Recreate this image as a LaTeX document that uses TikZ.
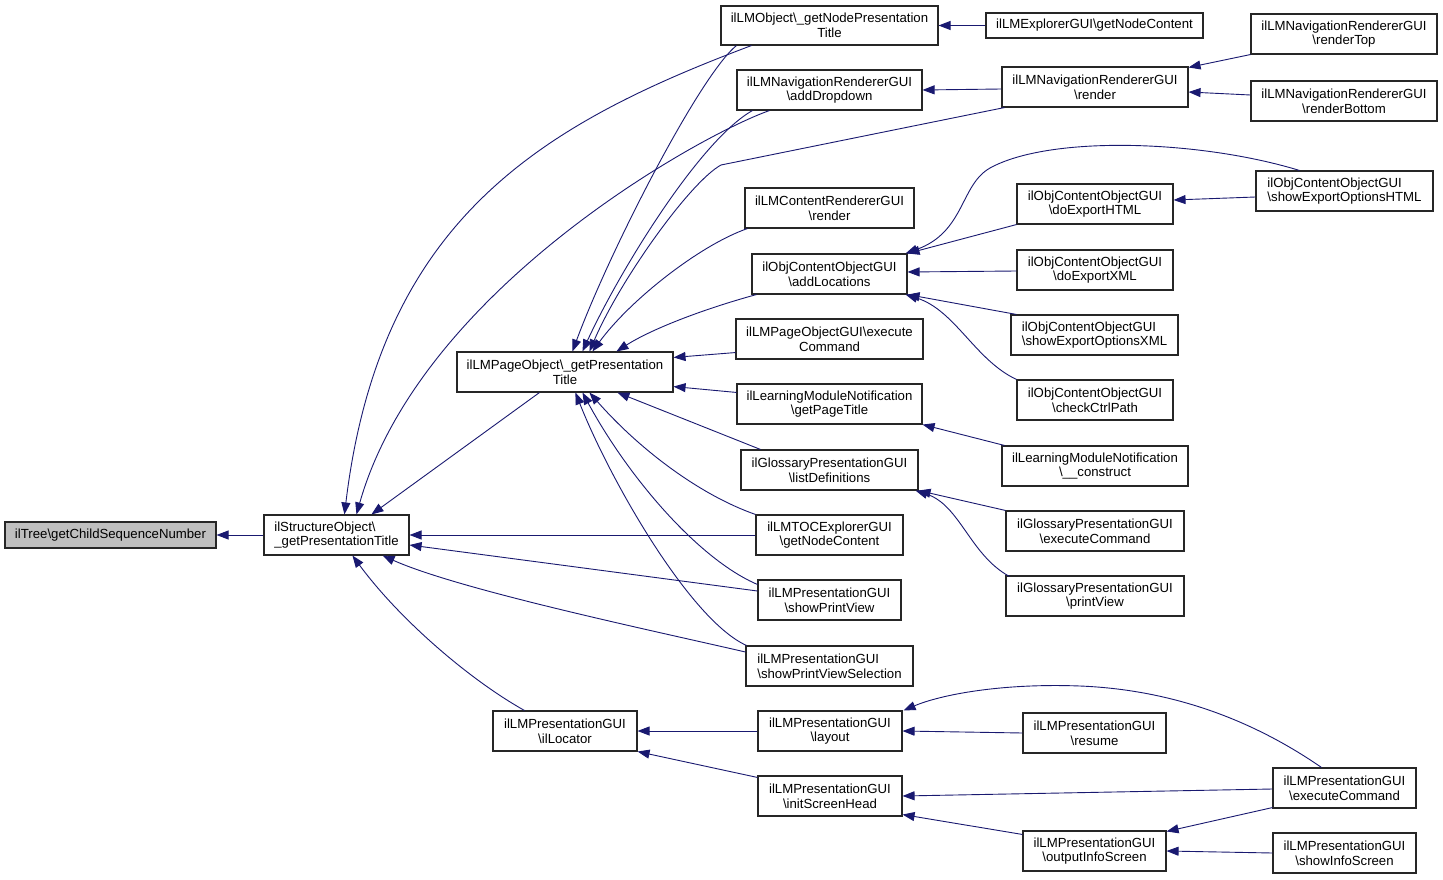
\documentclass[tikz,border=0pt]{standalone}
\usepackage{fontspec}
\setmainfont{Liberation Sans}
\usetikzlibrary{arrows.meta,calc}
\definecolor{edgec}{HTML}{191970}
\definecolor{rootc}{HTML}{BFBFBF}
\newcommand\bs{\textbackslash}
\newcommand\bx[7][]{%
  \pgfmathsetmacro\bxw{#5-#3}\pgfmathsetmacro\bxh{#6-#4}%
  \pgfmathsetmacro\bxx{(#3+#5)/2}\pgfmathsetmacro\bxy{(#4+#6)/2}%
  \node[box,minimum width=\bxw pt,minimum height=\bxh pt,#1] (#2) at (\bxx,\bxy) {#7};}
\tikzset{
  box/.style={draw=black!85,line width=1.1pt,fill=white,align=center,inner sep=0pt,
    font=\fontsize{13.2}{14.8}\selectfont},
  edge/.style={draw=edgec,line width=0.9pt,-{Triangle[length=12pt,width=9pt]}}
}
\begin{document}
\begin{tikzpicture}[x=1pt,y=-1pt]
\useasboundingbox[fill=white] (0,0) rectangle (1443,880);
\bx[fill=rootc]{tree}{5}{522}{216}{548}{ilTree\bs getChildSequenceNumber}
\bx[align=left]{so}{264}{515}{409}{555}{ilStructureObject\bs\\\_getPresentationTitle}
\bx{po}{457}{352}{673}{392}{ilLMPageObject\bs\_getPresentation\\Title}
\bx{lmo}{721}{6}{938}{45}{ilLMObject\bs\_getNodePresentation\\Title}
\bx{expl}{986}{13}{1203}{38}{ilLMExplorerGUI\bs getNodeContent}
\bx{add}{737}{70}{922}{110}{ilLMNavigationRendererGUI\\\bs addDropdown}
\bx{nav}{1002}{67}{1188}{107}{ilLMNavigationRendererGUI\\\bs render}
\bx{top}{1251}{14}{1437}{54}{ilLMNavigationRendererGUI\\\bs renderTop}
\bx{bot}{1251}{81}{1437}{121}{ilLMNavigationRendererGUI\\\bs renderBottom}
\bx{cr}{745}{188}{914}{228}{ilLMContentRendererGUI\\\bs render}
\bx{loc}{752}{254}{907}{294}{ilObjContentObjectGUI\\\bs addLocations}
\bx{html}{1017}{184}{1173}{224}{ilObjContentObjectGUI\\\bs doExportHTML}
\bx[align=left]{seh}{1256}{171}{1433}{211}{ilObjContentObjectGUI\\\bs showExportOptionsHTML}
\bx{xml}{1017}{250}{1173}{290}{ilObjContentObjectGUI\\\bs doExportXML}
\bx[align=left]{sex}{1011}{315}{1178}{355}{ilObjContentObjectGUI\\\bs showExportOptionsXML}
\bx{ccp}{1017}{380}{1173}{420}{ilObjContentObjectGUI\\\bs checkCtrlPath}
\bx{pog}{736}{319}{923}{359}{ilLMPageObjectGUI\bs execute\\Command}
\bx{gpt}{737}{384}{922}{424}{ilLearningModuleNotification\\\bs getPageTitle}
\bx{lmn}{1002}{446}{1188}{486}{ilLearningModuleNotification\\\bs\_\_construct}
\bx{ld}{741}{450}{918}{490}{ilGlossaryPresentationGUI\\\bs listDefinitions}
\bx{gec}{1006}{511}{1184}{551}{ilGlossaryPresentationGUI\\\bs executeCommand}
\bx{gpv}{1006}{576}{1184}{616}{ilGlossaryPresentationGUI\\\bs printView}
\bx{toc}{756}{515}{903}{555}{ilLMTOCExplorerGUI\\\bs getNodeContent}
\bx{spv}{758}{580}{901}{620}{ilLMPresentationGUI\\\bs showPrintView}
\bx[align=left]{spvs}{746}{646}{913}{686}{ilLMPresentationGUI\\\bs showPrintViewSelection}
\bx{illoc}{493}{711}{637}{751}{ilLMPresentationGUI\\\bs ilLocator}
\bx{lay}{758}{711}{902}{751}{ilLMPresentationGUI\\\bs layout}
\bx{ish}{758}{776}{902}{816}{ilLMPresentationGUI\\\bs initScreenHead}
\bx{res}{1023}{713}{1166}{753}{ilLMPresentationGUI\\\bs resume}
\bx{pec}{1273}{768}{1416}{808}{ilLMPresentationGUI\\\bs executeCommand}
\bx{ois}{1023}{831}{1166}{871}{ilLMPresentationGUI\\\bs outputInfoScreen}
\bx{sis}{1273}{833}{1416}{873}{ilLMPresentationGUI\\\bs showInfoScreen}
% edges
\draw[edge] (so.west) -- (tree.east);
\draw[edge] ($(lmo.south west)+(31,0)$) .. controls (540,125) and (380,220) .. ($(so.north west)+(81,0)$);
\draw[edge] ($(add.south west)+(33,0)$) .. controls (700,135) and (420,290) .. ($(so.north west)+(93,0)$);
\draw[edge] ($(lmo.south west)+(16,0)$) .. controls (700,75) and (610,250) .. ($(po.north west)+(116,0)$);
\draw[edge] ($(add.south west)+(16,0)$) .. controls (700,140) and (620,270) .. ($(po.north west)+(126,0)$);
\draw[edge] ($(nav.south west)+(3,0)$) -- (721,165) .. controls (690,182) and (620,280) .. ($(po.north west)+(133,0)$);
\draw[edge] ($(cr.south west)+(3,0)$) .. controls (700,245) and (630,300) .. ($(po.north west)+(136,0)$);
\draw[edge] ($(loc.south west)+(5,0)$) .. controls (700,310) and (650,330) .. ($(po.north west)+(160,0)$);
\draw[edge] ($(pog.south west)+(0,-7)$) -- ($(po.north east)+(0,6)$);
\draw[edge] ($(gpt.north west)+(0,9)$) -- ($(po.south east)+(0,-6)$);
\draw[edge] ($(ld.north west)+(20,0)$) -- ($(po.south west)+(161,0)$);
\draw[edge] (toc.north west) .. controls (700,495) and (640,450) .. ($(po.south west)+(133,0)$);
\draw[edge] ($(spv.north west)+(0,5)$) .. controls (700,560) and (630,480) .. ($(po.south west)+(126,0)$);
\draw[edge] ($(spvs.north west)+(1,0)$) .. controls (690,620) and (610,480) .. ($(po.south west)+(119,0)$);
\draw[edge] ($(po.south west)+(83,0)$) -- ($(so.north west)+(108,0)$);
\draw[edge] (toc.west) -- (so.east);
\draw[edge] ($(spv.west)+(0,-9)$) -- ($(so.east)+(0,10)$);
\draw[edge] ($(spvs.west)+(0,-14)$) .. controls (650,630) and (460,590) .. ($(so.south east)+(-27,0)$);
\draw[edge] ($(illoc.north west)+(32,0)$) .. controls (470,680) and (400,620) .. ($(so.south west)+(89,0)$);
\draw[edge] (expl.west) -- (lmo.east);
\draw[edge] ($(nav.west)+(0,2)$) -- (add.east);
\draw[edge] (top.south west) -- ($(nav.north east)+(0,1)$);
\draw[edge] ($(bot.west)+(0,-6)$) -- ($(nav.east)+(0,5)$);
\draw[edge] (html.south west) -- (loc.north east);
\draw[edge] ($(xml.west)+(0,1)$) -- ($(loc.east)+(0,-2)$);
\draw[edge] ($(sex.north west)+(6,0)$) -- (loc.south east);
\draw[edge] (ccp.north west) .. controls (975,360) and (955,310) .. ($(loc.south east)+(-2,0)$);
\draw[edge] ($(seh.north west)+(44,0)$) .. controls (1200,140) and (1050,135) .. (990,168) .. controls (960,185) and (965,232) .. ($(loc.north east)+(-2,0)$);
\draw[edge] ($(seh.west)+(0,6)$) -- ($(html.east)+(0,-4)$);
\draw[edge] ($(lmn.north west)+(3,0)$) -- (gpt.south east);
\draw[edge] (gec.north west) -- (ld.south east);
\draw[edge] ($(gpv.north west)+(4,1)$) .. controls (970,555) and (960,505) .. ($(ld.south east)+(-3,0)$);
\draw[edge] (lay.west) -- (illoc.east);
\draw[edge] ($(ish.north west)+(0,2)$) -- (illoc.south east);
\draw[edge] (res.west) -- (lay.east);
\draw[edge] ($(pec.north west)+(49,0)$) .. controls (1260,725) and (1180,690) .. (1080,686) .. controls (1000,683) and (940,695) .. ($(lay.north east)+(1,0)$);
\draw[edge] ($(pec.west)+(0,1)$) -- (ish.east);
\draw[edge] ($(pec.south west)+(0,-1)$) -- ($(ois.north east)+(0,1)$);
\draw[edge] ($(ois.north west)+(0,4)$) -- ($(ish.south east)+(0,-2)$);
\draw[edge] (sis.west) -- (ois.east);
\end{tikzpicture}
\end{document}
